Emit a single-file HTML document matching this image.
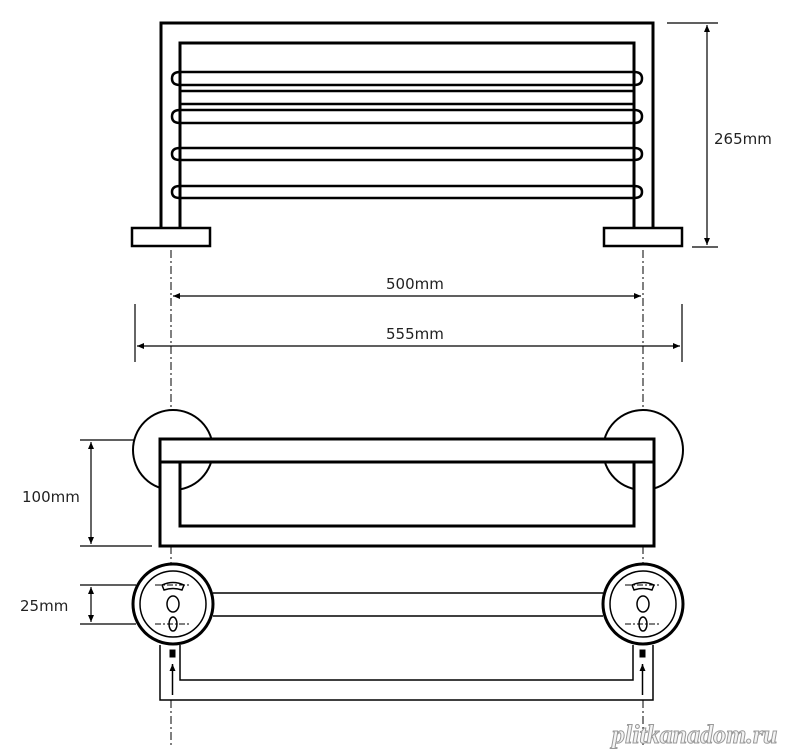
<!DOCTYPE html>
<html><head><meta charset="utf-8"><style>
html,body{margin:0;padding:0;background:#fff;width:799px;height:751px;overflow:hidden}
svg{display:block}
text{font-family:"DejaVu Sans","Liberation Sans",sans-serif;font-size:15px;fill:#222}
</style></head><body>
<svg width="799" height="751" viewBox="0 0 799 751" xmlns="http://www.w3.org/2000/svg">
<defs>
<marker id="a" markerWidth="8" markerHeight="8" refX="7" refY="4" orient="auto" markerUnits="userSpaceOnUse"><path d="M0,1 L7,4 L0,7 z" fill="#000"/></marker>
</defs>
<g fill="none" stroke="#000" stroke-width="3">
<!-- top view -->
<path d="M161,228 V23 H653 V228"/>
<path d="M180,228 V43 H634 V228"/>
<g stroke-width="2.5">
<path d="M180,72 H634 M180,85 H634 M180,91 H634 M180,104 H634 M180,110 H634 M180,123 H634 M180,148 H634 M180,160 H634 M180,186 H634 M180,198 H634"/>
<path d="M180,72 Q172,72 172,78.5 Q172,85 180,85 M180,110 Q172,110 172,116.5 Q172,123 180,123 M180,148 Q172,148 172,154 Q172,160 180,160 M180,186 Q172,186 172,192 Q172,198 180,198"/>
<path d="M634,72 Q642,72 642,78.5 Q642,85 634,85 M634,110 Q642,110 642,116.5 Q642,123 634,123 M634,148 Q642,148 642,154 Q642,160 634,160 M634,186 Q642,186 642,192 Q642,198 634,198"/>
</g>
<rect x="132" y="228" width="78" height="18" stroke-width="2.5"/>
<rect x="604" y="228" width="78" height="18" stroke-width="2.5"/>
<!-- front view -->
<circle cx="173" cy="450" r="40" stroke-width="2"/>
<circle cx="643" cy="450" r="40" stroke-width="2"/>
<path d="M160,439 H654 V546 H160 Z M180,462 V526 H634 V462 Z" fill="#fff" fill-rule="evenodd" stroke="none"/>
<rect x="160" y="439" width="494" height="107" stroke-width="3"/>
<path d="M160,462 H654"/>
<path d="M180,462 V526 H634 V462"/>
<!-- bottom view -->
<circle cx="173" cy="604" r="40" stroke-width="3"/>
<circle cx="173" cy="604" r="33" stroke-width="1.5"/>
<circle cx="643" cy="604" r="40" stroke-width="3"/>
<circle cx="643" cy="604" r="33" stroke-width="1.5"/>
<path d="M213,593 H603 M213,616 H603" stroke-width="1.5"/>
<path d="M160,645 V700 H653 V645 M180,645 V680 H633 V645" stroke-width="1.5"/>
<g stroke-width="1.5">
<path d="M162,585 Q173,580 184,585 L182,590 Q173,587 164,590 z"/>
<ellipse cx="173" cy="604" rx="6" ry="8"/>
<ellipse cx="173" cy="624" rx="4" ry="7"/>
<path d="M632,585 Q643,580 654,585 L652,590 Q643,587 634,590 z"/>
<ellipse cx="643" cy="604" rx="6" ry="8"/>
<ellipse cx="643" cy="624" rx="4" ry="7"/>
</g>
<path d="M155,585 H191 M155,624 H191 M625,585 H661 M625,624 H661" stroke-width="1" stroke-dasharray="6,2,2,2"/>
<rect x="170" y="650" width="5" height="7" fill="#000" stroke-width="1"/>
<rect x="640" y="650" width="5" height="7" fill="#000" stroke-width="1"/>
<path d="M172.5,695 V664" stroke-width="1.5" marker-end="url(#a)"/>
<path d="M642.5,695 V664" stroke-width="1.5" marker-end="url(#a)"/>
<!-- centerlines -->
<path d="M171,250 V408 M643,250 V408 M171,546 V564 M643,546 V564 M171,700 V745 M643,700 V745" stroke-width="1" stroke-dasharray="8,3,2,3"/>
<!-- dims -->
<g stroke-width="1.2">
<path d="M667,23 H718 M692,247 H718"/>
<path d="M707,135 V25" marker-end="url(#a)"/>
<path d="M707,135 V245" marker-end="url(#a)"/>
<path d="M407,296 H173" marker-end="url(#a)"/>
<path d="M407,296 H641" marker-end="url(#a)"/>
<path d="M135,304 V362 M682,304 V362"/>
<path d="M407,346 H137" marker-end="url(#a)"/>
<path d="M407,346 H680" marker-end="url(#a)"/>
<path d="M80,440 H135 M80,546 H152"/>
<path d="M91,493 V442" marker-end="url(#a)"/>
<path d="M91,493 V544" marker-end="url(#a)"/>
<path d="M80,585 H136 M80,624 H136"/>
<path d="M91,604 V587" marker-end="url(#a)"/>
<path d="M91,604 V622" marker-end="url(#a)"/>
</g>
</g>
<text x="714" y="144">265mm</text>
<text x="386" y="289">500mm</text>
<text x="386" y="339">555mm</text>
<text x="22" y="502">100mm</text>
<text x="20" y="611">25mm</text>
<text x="612" y="743" style="font-size:26px;font-weight:bold;font-style:italic;fill:#f4f4f4;stroke:#999;stroke-width:1;font-family:'Liberation Serif',serif">plitkanadom.ru</text>
</svg>
</body></html>
